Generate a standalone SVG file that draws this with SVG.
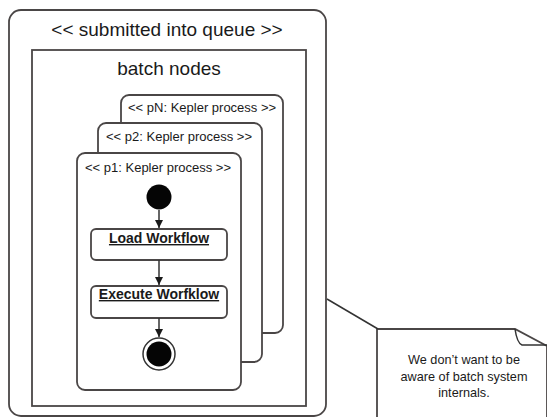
<svg xmlns="http://www.w3.org/2000/svg" width="547" height="417" viewBox="0 0 547 417">
<defs>
<style>
.box{fill:#fff;stroke:#4a4646;stroke-width:1.8}
.t{font-family:"Liberation Sans",Arial,sans-serif;fill:#1a1a1a}
.big{font-size:19px;text-anchor:middle}
.sm{font-size:13px}
.act{font-size:14px;font-weight:bold;text-anchor:middle;text-decoration:underline}
.note{font-size:12.7px;text-anchor:middle}
.ln{stroke:#333;stroke-width:1.5;fill:none}
</style>
<marker id="ah" markerWidth="10" markerHeight="10" refX="8" refY="4" orient="auto" markerUnits="userSpaceOnUse">
<path d="M0,0 L8,4 L0,8 Z" fill="#1a1a1a"/>
</marker>
</defs>
<rect width="547" height="417" fill="#fff"/>
<g id="queue">
<rect class="box" x="9" y="10" width="317" height="406" rx="12"/>
<text class="t big" x="167" y="36">&lt;&lt; submitted into queue &gt;&gt;</text>
</g>
<g id="batch-nodes">
<rect class="box" x="32" y="50" width="274" height="356"/>
<text class="t big" x="169" y="75">batch nodes</text>
</g>
<g id="pN">
<rect class="box" x="121" y="95" width="162" height="238" rx="8"/>
<text class="t sm" x="128" y="112">&lt;&lt; pN: Kepler process &gt;&gt;</text>
</g>
<g id="p2">
<rect class="box" x="98" y="123" width="164" height="239" rx="8"/>
<text class="t sm" x="106" y="141">&lt;&lt; p2: Kepler process &gt;&gt;</text>
</g>
<g id="p1">
<rect class="box" x="77" y="153" width="164" height="237" rx="8"/>
<text class="t sm" x="85" y="172">&lt;&lt; p1: Kepler process &gt;&gt;</text>
</g>
<g id="start">
<circle cx="159" cy="197" r="12.5" fill="#050505"/>
</g>
<g id="load-workflow">
<rect class="box" x="91" y="229" width="136" height="31" rx="5"/>
<text class="t act" x="159" y="243">Load Workflow</text>
</g>
<g id="execute-workflow">
<rect class="box" x="91" y="286" width="136" height="32" rx="5"/>
<text class="t act" x="159" y="299">Execute Worfklow</text>
</g>
<g id="end">
<circle cx="159" cy="354" r="16" fill="#fff" stroke="#333" stroke-width="1.5"/>
<circle cx="159" cy="354" r="12.5" fill="#050505"/>
</g>
<g id="note">
<path class="box" d="M377,329 L515,329 L547,346 L547,420 L377,420 Z"/>
<path class="ln" d="M515,329 Q517,343 522,345 L547,345"/>
<text class="t note" x="464" y="364">We don’t want to be</text>
<text class="t note" x="464" y="381">aware of batch system</text>
<text class="t note" x="464" y="397">internals.</text>
</g>
<g id="connectors">
<line class="ln" x1="159" y1="210" x2="159" y2="228" marker-end="url(#ah)"/>
<line class="ln" x1="159" y1="260" x2="159" y2="285" marker-end="url(#ah)"/>
<line class="ln" x1="159" y1="318" x2="159" y2="337" marker-end="url(#ah)"/>
<line class="ln" x1="327" y1="299" x2="378" y2="329"/>
</g>
</svg>
